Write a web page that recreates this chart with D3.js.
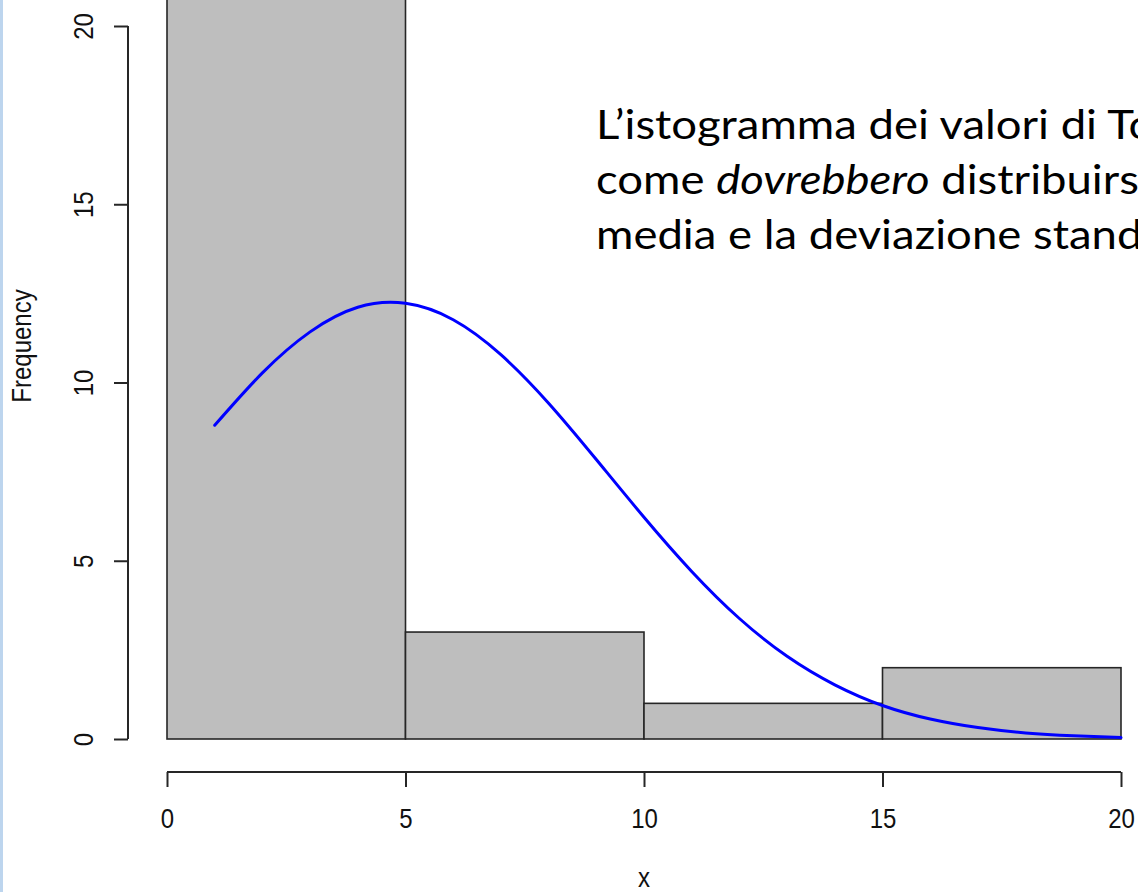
<!DOCTYPE html>
<html>
<head>
<meta charset="utf-8">
<script src="https://cdn.jsdelivr.net/npm/d3@7"></script>
<style>
  html, body { margin: 0; padding: 0; background: #ffffff; }
  svg { display: block; }
</style>
</head>
<body>
<svg id="chart" width="1138" height="892"></svg>
<script>
// Histogram bins (edges) and their counts
const binEdges = [0, 5, 10, 15, 20];
const binCounts = [22, 3, 1, 2];

// Expected normal curve (same mean / sd as the data), sampled at integer x
const curveX = [1, 2, 3, 4, 5, 6, 7, 8, 9, 10, 11, 12, 13, 14, 15, 16, 17, 18, 19, 20];
const curveY = [8.80, 10.27, 11.42, 12.11, 12.22, 11.76, 10.78, 9.42, 7.84, 6.22,
                4.70, 3.38, 2.32, 1.52, 0.94, 0.56, 0.32, 0.17, 0.09, 0.04];

// Axis ticks
const xTicks = [0, 5, 10, 15, 20];
const yTicks = [0, 5, 10, 15, 20];

// Annotation text (line by line; italic parts marked)
const noteLines = [
  [{ t: "L’istogramma dei valori di To", i: false }],
  [{ t: "come ", i: false }, { t: "dovrebbero", i: true }, { t: " distribuirsi", i: false }],
  [{ t: "media e la deviazione standard", i: false }]
];

const svg = d3.select("#chart");

const x = d3.scaleLinear().domain([0, 20]).range([167, 1121]);
const y = d3.scaleLinear().domain([0, 20]).range([739, 26]);

const axisX = 128;   // position of the vertical axis line
const axisY = 772;   // position of the horizontal axis line
const axisFont = "'Liberation Sans', Arial, sans-serif";
const ink = "#262626";

// slide edge strip on the left
svg.append("rect")
  .attr("x", 0).attr("y", 0).attr("width", 3).attr("height", 892)
  .attr("fill", "#bdd5ee");

// bars
const bins = binCounts.map((c, k) => ({ x0: binEdges[k], x1: binEdges[k + 1], n: c }));
svg.append("g")
  .selectAll("rect")
  .data(bins)
  .join("rect")
  .attr("x", d => x(d.x0))
  .attr("y", d => y(d.n))
  .attr("width", d => x(d.x1) - x(d.x0))
  .attr("height", d => y(0) - y(d.n))
  .attr("fill", "#bebebe")
  .attr("stroke", ink)
  .attr("stroke-width", 1.6);

// normal curve
const line = d3.line()
  .x((d, k) => x(curveX[k]))
  .y(d => y(d))
  .curve(d3.curveNatural);
svg.append("path")
  .datum(curveY)
  .attr("d", line)
  .attr("fill", "none")
  .attr("stroke", "#0000ff")
  .attr("stroke-width", 3)
  .attr("stroke-linecap", "round");

// y axis
const gy = svg.append("g")
  .attr("transform", `translate(${axisX},0)`)
  .call(d3.axisLeft(y).tickValues(yTicks).tickSize(14).tickSizeOuter(0).tickPadding(0));
gy.select(".domain").remove();
gy.append("line")
  .attr("x1", 0).attr("x2", 0)
  .attr("y1", y(yTicks[0])).attr("y2", y(yTicks[yTicks.length - 1]))
  .attr("stroke", ink).attr("stroke-width", 2);
gy.selectAll(".tick line").attr("stroke", ink).attr("stroke-width", 2);
gy.selectAll(".tick text")
  .attr("x", null).attr("dy", null)
  .attr("transform", "translate(-35,0) rotate(-90) scale(1,1.12)")
  .attr("text-anchor", "middle")
  .attr("fill", "#111")
  .style("font-family", axisFont)
  .style("font-size", "24px");

// x axis
const gx = svg.append("g")
  .attr("transform", `translate(0,${axisY})`)
  .call(d3.axisBottom(x).tickValues(xTicks).tickSize(15).tickSizeOuter(0).tickPadding(0));
gx.select(".domain").remove();
gx.append("line")
  .attr("x1", x(xTicks[0])).attr("x2", x(xTicks[xTicks.length - 1]))
  .attr("y1", 0).attr("y2", 0)
  .attr("stroke", ink).attr("stroke-width", 2);
gx.selectAll(".tick line").attr("stroke", ink).attr("stroke-width", 2);
gx.selectAll(".tick text")
  .attr("y", null).attr("dy", null)
  .attr("transform", "translate(0,56) scale(1,1.12)")
  .attr("text-anchor", "middle")
  .attr("fill", "#111")
  .style("font-family", axisFont)
  .style("font-size", "24px");

// axis titles
svg.append("text")
  .attr("transform", `translate(${(x(0) + x(20)) / 2},887) scale(1,1.12)`)
  .attr("text-anchor", "middle")
  .attr("fill", "#111")
  .style("font-family", axisFont)
  .style("font-size", "24px")
  .text("x");

svg.append("text")
  .attr("transform", "translate(31,346) rotate(-90) scale(1,1.12)")
  .attr("text-anchor", "middle")
  .attr("fill", "#111")
  .style("font-family", axisFont)
  .style("font-size", "24px")
  .text("Frequency");

// annotation (glyphs slightly condensed vertically)
const vScale = 0.9;
const note = svg.append("g")
  .attr("transform", `scale(1,${vScale})`)
  .append("text")
  .attr("fill", "#000")
  .style("font-family", "Lato, 'Open Sans', sans-serif")
  .style("font-size", "45.5px");
noteLines.forEach((parts, k) => {
  parts.forEach((p, j) => {
    const ts = note.append("tspan").text(p.t);
    if (j === 0) ts.attr("x", 596).attr("y", (139 + k * 55) / vScale);
    if (p.i) ts.style("font-style", "italic");
  });
});
</script>
</body>
</html>
